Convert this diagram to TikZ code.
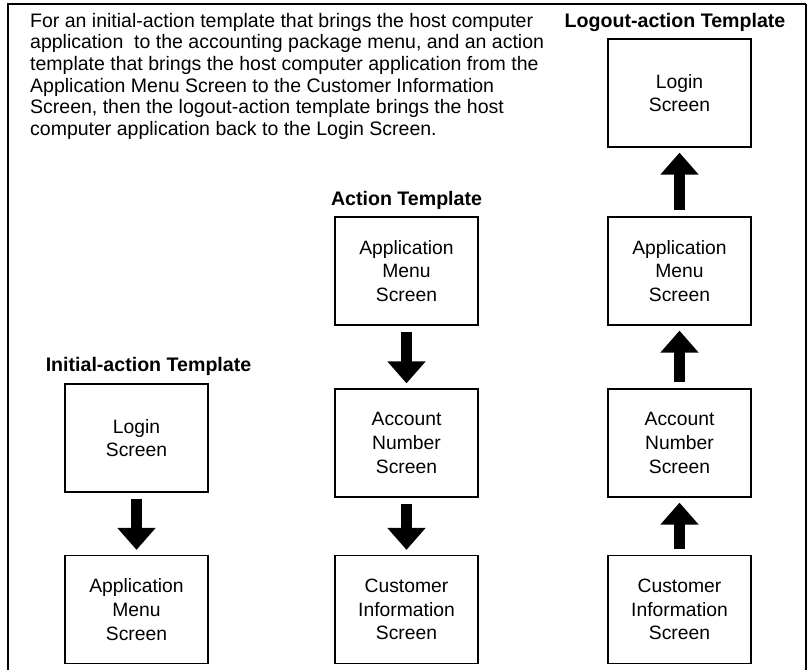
\documentclass[tikz,border=0pt]{standalone}
\usepackage{fontspec}
\setmainfont{Liberation Sans}
\usepackage{tikz}
\usetikzlibrary{
    positioning,
    arrows.meta
}
\tikzset{
    screen/.style={draw, line width=1.3pt, minimum width=143pt, minimum height=108pt,
        inner sep=0pt, align=center, font=\fontsize{19.3}{23.8}\selectfont},
    tmpltitle/.style={anchor=base, inner sep=0pt, font=\bfseries\fontsize{19.6}{23}\selectfont},
    bigarrow/.style={line width=11pt, -{Triangle[width=37pt, length=22pt]},
        shorten <=6pt, shorten >=5pt}
}

\begin{document}
\begin{tikzpicture}[x=1pt, y=-1pt]
            \useasboundingbox (0,0) rectangle (810,670);
            % 外枠 (下は開いている)
            \draw[line width=2.2pt] (8,670) -- (8,4) -- (806,4);
            \draw[line width=1.2pt] (806,4) -- (806,670);

            % 説明文
            \node[anchor=north west, inner sep=0pt, align=left,
                font=\fontsize{19.5}{21.6}\selectfont] (desc) at (30,13)
                {For an initial-action template that brings the host computer\\
                 application\ \ to the accounting package menu, and an action\\
                 template that brings the host computer application from the\\
                 Application Menu Screen to the Customer Information\\
                 Screen, then the logout-action template brings the host\\
                 computer application back to the Login Screen.};

            % 列の中心
            \coordinate (C1) at (136.5,0);
            \coordinate (C2) at (406.5,0);
            \coordinate (C3) at (679.5,0);

            % Initial-action Template
            \node[tmpltitle] (ititle) at (148.5,371) {Initial-action Template};
            \node[screen] (ilogin) at (C1 |- 0,438) {Login\\Screen};
            \node[screen] (imenu) at (C1 |- 0,609.5) {Application\\Menu\\Screen};
            \draw[bigarrow] (ilogin) -- (imenu);

            % Action Template
            \node[tmpltitle] (atitle) at (406.5,205) {Action Template};
            \node[screen] (amenu) at (C2 |- 0,271) {Application\\Menu\\Screen};
            \node[screen] (aacct) at (C2 |- 0,443) {Account\\Number\\Screen};
            \node[screen] (acust) at (C2 |- 0,609.5) {Customer\\Information\\Screen};
            \draw[bigarrow] (amenu) -- (aacct);
            \draw[bigarrow] (aacct) -- (acust);

            % Logout-action Template
            \node[tmpltitle] (ltitle) at (675,27) {Logout-action Template};
            \node[screen] (llogin) at (C3 |- 0,93) {Login\\Screen};
            \node[screen] (lmenu) at (C3 |- 0,271) {Application\\Menu\\Screen};
            \node[screen] (lacct) at (C3 |- 0,443) {Account\\Number\\Screen};
            \node[screen] (lcust) at (C3 |- 0,609.5) {Customer\\Information\\Screen};
            \draw[bigarrow] (lcust) -- (lacct);
            \draw[bigarrow] (lacct) -- (lmenu);
            \draw[bigarrow] (lmenu) -- (llogin);
        \end{tikzpicture}
\end{document}
